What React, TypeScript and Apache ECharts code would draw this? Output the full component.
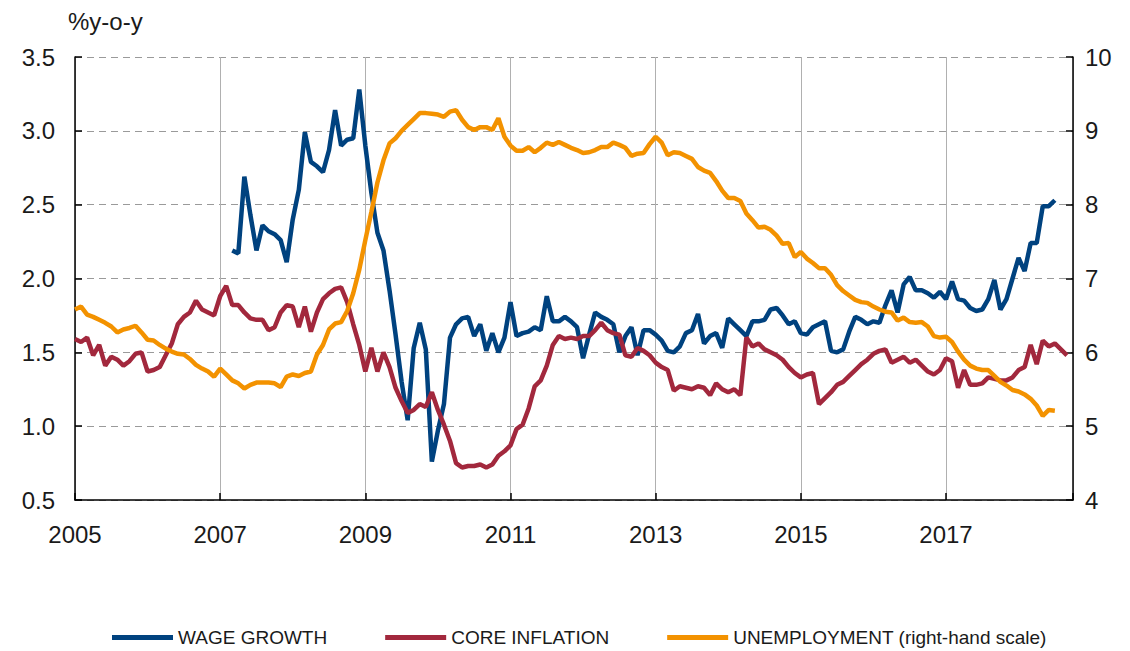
import React, { useEffect, useRef } from "react";
import * as echarts from "echarts";

// ---- data (monthly, month index 0 = Jan 2005) ----
const START_YEAR = 2005;
const X_MAX_MONTH = 165;
const WAGE_START_MONTH = 26; // Mar 2007

const wageGrowth = [
  2.19, 2.17, 2.69, 2.43, 2.19, 2.36, 2.32, 2.30, 2.26, 2.11, 2.40, 2.60,
  2.99, 2.79, 2.76, 2.72, 2.87, 3.14, 2.90, 2.94, 2.95, 3.28, 2.90, 2.58,
  2.31, 2.19, 1.92, 1.62, 1.30, 1.04, 1.53, 1.70, 1.52, 0.76, 0.97, 1.15,
  1.60, 1.69, 1.73, 1.74, 1.61, 1.69, 1.51, 1.63, 1.50, 1.60, 1.84, 1.61,
  1.63, 1.64, 1.67, 1.65, 1.88, 1.71, 1.71, 1.74, 1.71, 1.67, 1.46, 1.62,
  1.77, 1.74, 1.72, 1.69, 1.50, 1.61, 1.67, 1.48, 1.65, 1.65, 1.62, 1.58,
  1.51, 1.50, 1.54, 1.63, 1.65, 1.76, 1.56, 1.61, 1.63, 1.53, 1.73, 1.69,
  1.65, 1.61, 1.71, 1.71, 1.72, 1.79, 1.80, 1.75, 1.69, 1.71, 1.63, 1.62,
  1.67, 1.69, 1.71, 1.51, 1.50, 1.52, 1.64, 1.74, 1.72, 1.69, 1.71, 1.70,
  1.82, 1.92, 1.77, 1.96, 2.01, 1.92, 1.92, 1.90, 1.87, 1.91, 1.86, 1.98,
  1.86, 1.85, 1.80, 1.78, 1.79, 1.86, 1.99, 1.79, 1.86, 2.00, 2.14, 2.05,
  2.24, 2.24, 2.49, 2.49, 2.53,
];

const coreInflation = [
  1.59, 1.57, 1.60, 1.48, 1.55, 1.41, 1.47, 1.45, 1.41, 1.44, 1.49, 1.50,
  1.37, 1.38, 1.40, 1.48, 1.56, 1.69, 1.74, 1.77, 1.85, 1.79, 1.77, 1.75,
  1.88, 1.95, 1.82, 1.82, 1.77, 1.73, 1.72, 1.72, 1.65, 1.67, 1.77, 1.82,
  1.81, 1.67, 1.81, 1.64, 1.77, 1.86, 1.90, 1.93, 1.94, 1.84, 1.69, 1.55,
  1.37, 1.53, 1.37, 1.50, 1.40, 1.26, 1.17, 1.09, 1.11, 1.15, 1.13, 1.23,
  1.11, 1.01, 0.90, 0.75, 0.72, 0.73, 0.73, 0.74, 0.72, 0.74, 0.80, 0.83,
  0.87, 0.98, 1.01, 1.12, 1.27, 1.31, 1.41, 1.55, 1.61, 1.59, 1.60, 1.59,
  1.61, 1.61, 1.65, 1.70, 1.65, 1.63, 1.62, 1.48, 1.47, 1.53, 1.51, 1.48,
  1.43, 1.40, 1.38, 1.24, 1.27, 1.26, 1.25, 1.27, 1.26, 1.21, 1.29, 1.25,
  1.23, 1.25, 1.21, 1.60, 1.54, 1.56, 1.52, 1.50, 1.48, 1.45, 1.40, 1.36,
  1.33, 1.35, 1.36, 1.15, 1.19, 1.23, 1.28, 1.30, 1.34, 1.38, 1.42, 1.45,
  1.49, 1.51, 1.52, 1.43, 1.45, 1.47, 1.43, 1.45, 1.41, 1.37, 1.35, 1.38,
  1.46, 1.44, 1.26, 1.38, 1.28, 1.28, 1.29, 1.33, 1.32, 1.31, 1.31, 1.33,
  1.38, 1.40, 1.55, 1.42, 1.58, 1.54, 1.56, 1.52, 1.48,
];

const unemployment = [
  6.58, 6.62, 6.51, 6.48, 6.44, 6.40, 6.35, 6.27, 6.31, 6.33, 6.36, 6.27,
  6.17, 6.16, 6.10, 6.05, 6.01, 5.98, 5.97, 5.91, 5.83, 5.78, 5.74, 5.67,
  5.78, 5.70, 5.62, 5.58, 5.51, 5.56, 5.59, 5.59, 5.59, 5.58, 5.53, 5.67,
  5.70, 5.68, 5.72, 5.74, 5.97, 6.10, 6.31, 6.39, 6.41, 6.56, 6.80, 7.12,
  7.52, 7.90, 8.30, 8.60, 8.83, 8.90, 9.00, 9.08, 9.16, 9.24, 9.24, 9.23,
  9.22, 9.19, 9.26, 9.28, 9.15, 9.05, 9.01, 9.05, 9.05, 9.01, 9.17, 8.92,
  8.80, 8.73, 8.73, 8.78, 8.71, 8.77, 8.84, 8.81, 8.85, 8.81, 8.77, 8.74,
  8.70, 8.71, 8.74, 8.78, 8.78, 8.84, 8.81, 8.77, 8.66, 8.69, 8.70, 8.82,
  8.92, 8.84, 8.67, 8.71, 8.70, 8.66, 8.62, 8.51, 8.46, 8.43, 8.32, 8.19,
  8.09, 8.09, 8.05, 7.88, 7.79, 7.69, 7.70, 7.66, 7.58, 7.47, 7.48, 7.29,
  7.36, 7.27, 7.21, 7.14, 7.14, 7.05, 6.91, 6.83, 6.77, 6.71, 6.68, 6.67,
  6.62, 6.58, 6.55, 6.54, 6.43, 6.47, 6.41, 6.40, 6.41, 6.35, 6.22, 6.20,
  6.21, 6.14, 6.01, 5.90, 5.82, 5.78, 5.76, 5.76, 5.68, 5.60, 5.55, 5.49,
  5.47, 5.43, 5.37, 5.28, 5.14, 5.22, 5.21,
];

const seriesNames = ["WAGE GROWTH", "CORE INFLATION", "UNEMPLOYMENT (right-hand scale)"];
const seriesColors = ["#00427f", "#a2283d", "#f39200"];
const leftAxisRange = [0.5, 3.5, 0.5];
const rightAxisRange = [4, 10, 1];
const yearStep = 2;
const unitLabel = "%y-o-y";

const FONT = "'Liberation Sans', Arial, sans-serif";

function toPairs(values: number[], start: number) {
  return values.map((v, i) => [start + i, v]);
}

export default function App() {
  const ref = useRef<HTMLDivElement>(null);

  useEffect(() => {
    if (!ref.current) return;
    const chart = echarts.init(ref.current, null, { renderer: "svg" });
    const axisLineStyle = { color: "#000", width: 1.5 };
    const labelStyle = { fontSize: 24, color: "#1a1a1a", fontFamily: FONT };
    const LINE_W = 4.5;

    chart.setOption({
      animation: false,
      backgroundColor: "#fff",
      grid: { left: 75, right: 57, top: 57, bottom: 151, containLabel: false, outerBoundsMode: "none" },
      graphic: [
        {
          type: "text",
          left: 68,
          top: 9,
          style: { text: unitLabel, fontSize: 24, fill: "#1a1a1a", fontFamily: FONT },
        },
      ],
      legend: {
        left: 107,
        top: 623,
        orient: "horizontal",
        icon: "rect",
        itemWidth: 61,
        itemHeight: 5,
        itemGap: 58,
        selectedMode: false,
        textStyle: { fontSize: 19, color: "#1a1a1a", fontFamily: FONT },
        data: seriesNames,
      },
      xAxis: {
        type: "value",
        min: 0,
        max: X_MAX_MONTH,
        interval: 12 * yearStep,
        axisLine: { show: true, lineStyle: axisLineStyle },
        axisTick: { show: true, inside: true, length: 7, lineStyle: axisLineStyle },
        axisLabel: {
          ...labelStyle,
          margin: 22,
          formatter: (v: number) => (v % (12 * yearStep) === 0 ? String(START_YEAR + v / 12) : ""),
        },
        splitLine: { show: true, lineStyle: { color: "#b0b0b0", width: 1 } },
      },
      yAxis: [
        {
          type: "value",
          position: "left",
          min: leftAxisRange[0],
          max: leftAxisRange[1],
          interval: leftAxisRange[2],
          axisLine: { show: true, lineStyle: axisLineStyle },
          axisTick: { show: true, inside: true, length: 7, lineStyle: axisLineStyle },
          axisLabel: { ...labelStyle, margin: 20, formatter: (v: number) => v.toFixed(1) },
          splitLine: { show: true, lineStyle: { color: "#9a9a9a", width: 1, type: [7, 5] } },
        },
        {
          type: "value",
          position: "right",
          min: rightAxisRange[0],
          max: rightAxisRange[1],
          interval: rightAxisRange[2],
          axisLine: { show: true, lineStyle: axisLineStyle },
          axisTick: { show: true, inside: true, length: 7, lineStyle: axisLineStyle },
          axisLabel: { ...labelStyle, margin: 12 },
          splitLine: { show: false },
        },
      ],
      series: [
        {
          name: seriesNames[0],
          type: "line",
          yAxisIndex: 0,
          data: toPairs(wageGrowth, WAGE_START_MONTH),
          showSymbol: false,
          color: seriesColors[0],
          lineStyle: { width: LINE_W, color: seriesColors[0] },
        },
        {
          name: seriesNames[1],
          type: "line",
          yAxisIndex: 0,
          data: toPairs(coreInflation, 0),
          showSymbol: false,
          color: seriesColors[1],
          lineStyle: { width: LINE_W, color: seriesColors[1] },
        },
        {
          name: seriesNames[2],
          type: "line",
          yAxisIndex: 1,
          data: toPairs(unemployment, 0),
          showSymbol: false,
          color: seriesColors[2],
          lineStyle: { width: LINE_W, color: seriesColors[2] },
        },
      ],
    });

    return () => chart.dispose();
  }, []);

  return (
    <div
      ref={ref}
      style={{ position: "fixed", left: 0, top: 0, width: 1130, height: 651, background: "#fff" }}
    />
  );
}
